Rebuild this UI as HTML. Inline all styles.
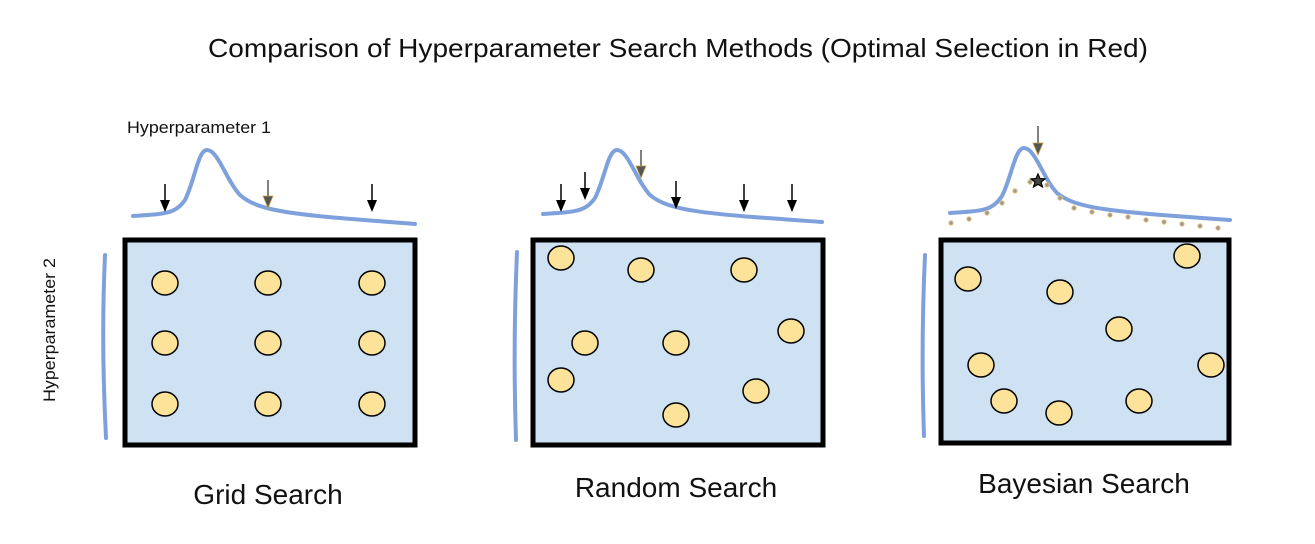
<!DOCTYPE html>
<html><head><meta charset="utf-8"><style>
html,body{margin:0;padding:0;background:#fff}
svg{display:block}
text{font-family:"Liberation Sans",Arial,sans-serif;fill:#111}
</style></head><body>
<svg width="1315" height="544" viewBox="0 0 1315 544" xmlns="http://www.w3.org/2000/svg">
<text x="208" y="57" font-size="26" textLength="940" lengthAdjust="spacingAndGlyphs">Comparison of Hyperparameter Search Methods (Optimal Selection in Red)</text>
<text x="127" y="133" font-size="17" textLength="144" lengthAdjust="spacingAndGlyphs">Hyperparameter 1</text>
<text transform="translate(55,402) rotate(-90)" font-size="17" textLength="144" lengthAdjust="spacingAndGlyphs" fill="#333">Hyperparameter 2</text>

<g fill="none" stroke="#7ea1dc" stroke-width="4" stroke-linecap="round">
<path d="M133,216 C165,214 175,214 185,200 C195,180 198,150 207,150 C218,150 226,180 240,195 C260,213 300,215 415,224"/>
<path d="M105,255 C102,320 103,380 106,438"/>
<path d="M543,214 C575,212 585,212 595,198 C605,178 608,150 617,150 C628,150 636,180 650,195 C670,212 710,214 822,222"/>
<path d="M517,252 C514,320 514,380 516,440"/>
<path d="M950,213 C982,211 992,211 1002,196 C1012,176 1015,148 1024,148 C1035,148 1043,178 1057,193 C1077,210 1120,212 1230,220"/>
<path d="M925,255 C922,320 922,380 924,436"/>
</g>
<g fill="#999" stroke="#e8c77a" stroke-width="1">
<circle cx="951" cy="223" r="2.2"/><circle cx="969" cy="219" r="2.2"/><circle cx="987" cy="213" r="2.2"/><circle cx="1002" cy="203" r="2.2"/><circle cx="1015" cy="191" r="2.2"/><circle cx="1030" cy="182" r="2.2"/><circle cx="1047" cy="185" r="2.2"/><circle cx="1060" cy="198" r="2.2"/><circle cx="1074" cy="208" r="2.2"/><circle cx="1092" cy="212" r="2.2"/><circle cx="1110" cy="215" r="2.2"/><circle cx="1128" cy="217" r="2.2"/><circle cx="1146" cy="220" r="2.2"/><circle cx="1164" cy="222" r="2.2"/><circle cx="1182" cy="224" r="2.2"/><circle cx="1200" cy="226" r="2.2"/><circle cx="1218" cy="228" r="2.2"/>
</g>
<g stroke="#000" stroke-width="1.5" fill="#000">
<line x1="165" y1="184" x2="165" y2="203"/><path d="M160,200 L170,200 L165,212 z" stroke="none"/>
<line x1="372" y1="184" x2="372" y2="203"/><path d="M367,200 L377,200 L372,212 z" stroke="none"/>
<line x1="561" y1="184" x2="561" y2="203"/><path d="M556,200 L566,200 L561,212 z" stroke="none"/>
<line x1="585" y1="172" x2="585" y2="191"/><path d="M580,188 L590,188 L585,200 z" stroke="none"/>
<line x1="676" y1="181" x2="676" y2="200"/><path d="M671,197 L681,197 L676,209 z" stroke="none"/>
<line x1="744" y1="184" x2="744" y2="203"/><path d="M739,200 L749,200 L744,212 z" stroke="none"/>
<line x1="792" y1="184" x2="792" y2="203"/><path d="M787,200 L797,200 L792,212 z" stroke="none"/>
</g>
<g stroke="#555" stroke-width="1.5">
<line x1="268" y1="180" x2="268" y2="198"/><path d="M263,196 L273,196 L268,208 z" fill="#555" stroke="#c9a040" stroke-width="0.8"/>
<line x1="641" y1="150" x2="641" y2="168"/><path d="M636,166 L646,166 L641,178 z" fill="#555" stroke="#c9a040" stroke-width="0.8"/>
<line x1="1038" y1="126" x2="1038" y2="145"/><path d="M1033,143 L1043,143 L1038,155 z" fill="#555" stroke="#c9a040" stroke-width="0.8"/>
</g>
<path d="M1038,174 L1040,178.5 L1045,179 L1041,182 L1042.5,187 L1038,184.3 L1033.5,187 L1035,182 L1031,179 L1036,178.5 z" fill="#444" stroke="#000" stroke-width="1.2"/>

<g fill="#cfe2f3" stroke="#000" stroke-width="5">
<rect x="125" y="240" width="290" height="205"/>
<rect x="533" y="240" width="290" height="205"/>
<rect x="941" y="240" width="288" height="203"/>
</g>
<g fill="#fde29a" stroke="#000" stroke-width="1.5">
<ellipse cx="165" cy="283" rx="13" ry="12"/><ellipse cx="268" cy="283" rx="13" ry="12"/><ellipse cx="372" cy="283" rx="13" ry="12"/>
<ellipse cx="165" cy="343" rx="13" ry="12"/><ellipse cx="268" cy="343" rx="13" ry="12"/><ellipse cx="372" cy="343" rx="13" ry="12"/>
<ellipse cx="165" cy="404" rx="13" ry="12"/><ellipse cx="268" cy="404" rx="13" ry="12"/><ellipse cx="372" cy="404" rx="13" ry="12"/>
<ellipse cx="561" cy="258" rx="13" ry="12"/><ellipse cx="641" cy="270" rx="13" ry="12"/><ellipse cx="744" cy="270" rx="13" ry="12"/>
<ellipse cx="585" cy="343" rx="13" ry="12"/><ellipse cx="676" cy="343" rx="13" ry="12"/><ellipse cx="791" cy="331" rx="13" ry="12"/>
<ellipse cx="561" cy="380" rx="13" ry="12"/><ellipse cx="756" cy="391" rx="13" ry="12"/><ellipse cx="676" cy="415" rx="13" ry="12"/>
<ellipse cx="968" cy="279" rx="13" ry="12"/><ellipse cx="1060" cy="292" rx="13" ry="12"/><ellipse cx="1187" cy="256" rx="13" ry="12"/>
<ellipse cx="1119" cy="329" rx="13" ry="12"/><ellipse cx="981" cy="365" rx="13" ry="12"/><ellipse cx="1211" cy="365" rx="13" ry="12"/>
<ellipse cx="1004" cy="401" rx="13" ry="12"/><ellipse cx="1059" cy="413" rx="13" ry="12"/><ellipse cx="1139" cy="401" rx="13" ry="12"/>
</g>
<text x="268" y="504" font-size="28" text-anchor="middle">Grid Search</text>
<text x="676" y="497" font-size="28" text-anchor="middle">Random Search</text>
<text x="1084" y="493" font-size="28" text-anchor="middle">Bayesian Search</text>
</svg>
</body></html>
